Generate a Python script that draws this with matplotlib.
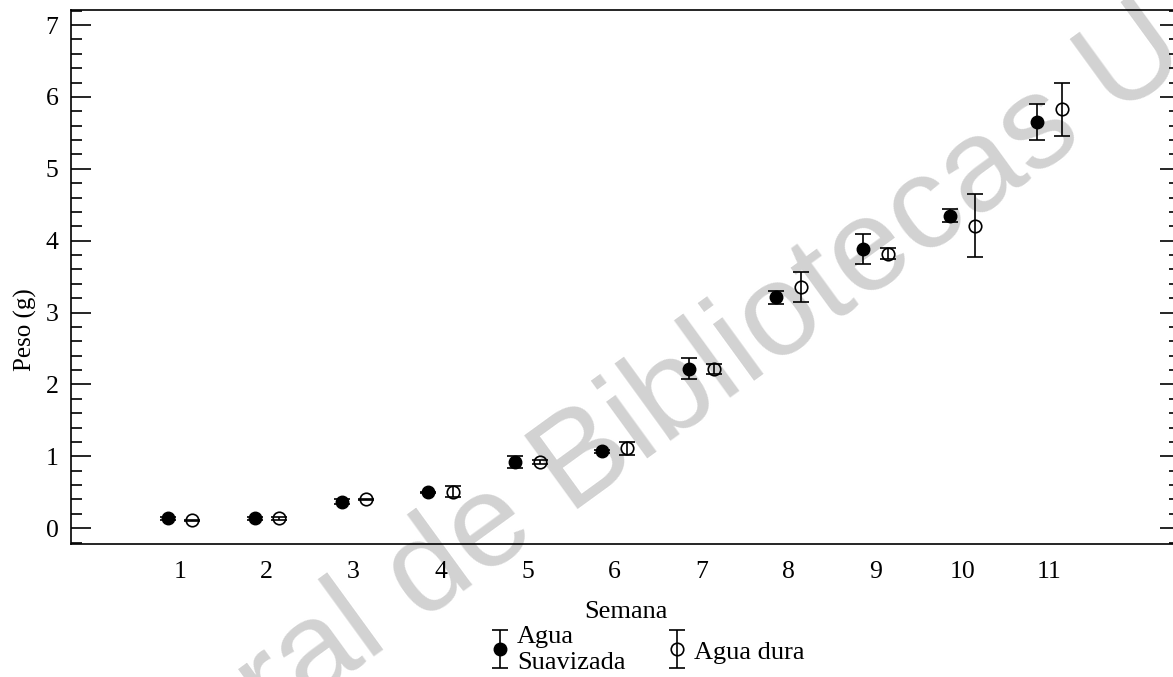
import matplotlib
matplotlib.use("Agg")
import matplotlib.pyplot as plt
from matplotlib.ticker import MultipleLocator
from matplotlib.legend_handler import HandlerErrorbar
from matplotlib.container import ErrorbarContainer

semanas = [1, 2, 3, 4, 5, 6, 7, 8, 9, 10, 11]
etiquetas = [str(s) for s in semanas]

# Agua suavizada
suav_media = [0.14, 0.14, 0.37, 0.50, 0.92, 1.07, 2.22, 3.21, 3.88, 4.35, 5.65]
suav_err = [0.02, 0.02, 0.04, 0.01, 0.08, 0.02, 0.15, 0.085, 0.21, 0.09, 0.25]

# Agua dura
dura_media = [0.11, 0.14, 0.40, 0.51, 0.92, 1.11, 2.21, 3.36, 3.82, 4.21, 5.83]
dura_err = [0.01, 0.02, 0.01, 0.08, 0.03, 0.09, 0.07, 0.21, 0.08, 0.44, 0.37]

plt.rcParams['font.family'] = ['Liberation Serif', 'DejaVu Serif']

fig = plt.figure(figsize=(11.73, 6.77), dpi=100)
ax = fig.add_axes([71 / 1173, 1 - 544 / 677, (1180 - 71) / 1173, (544 - 10) / 677])
ax.patch.set_visible(False)

# marca de agua
fig.text(442 / 1173, 1 - 608 / 677, 'Dirección General de Bibliotecas UAQ',
         fontsize=95, color='#d2d2d2', family='Liberation Sans',
         rotation=36, rotation_mode='anchor', ha='center', va='baseline',
         zorder=-1)

off = 0.14
lw = 1.2
e1 = ax.errorbar([s - off for s in semanas], suav_media, yerr=suav_err, fmt='o',
                 color='black', markersize=9, elinewidth=lw, capsize=6,
                 capthick=lw, label='Agua\nSuavizada')
e2 = ax.errorbar([s + off for s in semanas], dura_media, yerr=dura_err, fmt='o',
                 color='black', markerfacecolor='none', markeredgewidth=1.2,
                 markersize=9, elinewidth=lw, capsize=6, capthick=lw,
                 label='Agua dura')

ax.set_xlim(-0.25, 12.5)
ax.set_ylim(-0.22, 7.21)
ax.set_xticks(semanas)
ax.set_xticklabels(etiquetas)
ax.yaxis.set_major_locator(MultipleLocator(1))
ax.yaxis.set_minor_locator(MultipleLocator(0.2))

ax.tick_params(axis='x', length=0, pad=12, labelsize=18.5)
ax.tick_params(axis='y', which='both', direction='in', left=True, right=True,
               labelsize=18.5, pad=9, width=1.2)
ax.tick_params(axis='y', which='major', length=14.5)
ax.tick_params(axis='y', which='minor', length=8)

for sp in ax.spines.values():
    sp.set_linewidth(1.2)

ax.set_xlabel('Semana', fontsize=19, va='center')
ax.xaxis.set_label_coords(0.5, (544 - 612) / 534)
ax.set_ylabel('Peso (g)', fontsize=18, va='center')
ax.yaxis.set_label_coords((25 - 71) / 1109, (544 - 330) / 534)

fig.legend(handles=[e1, e2], labels=['Agua\nSuavizada', 'Agua dura'],
           loc='center', bbox_to_anchor=(647 / 1173, 1 - 650 / 677), ncol=2,
           frameon=False, fontsize=19, numpoints=1, handlelength=0.8,
           handletextpad=0.25, columnspacing=1.55, labelspacing=0.2,
           handler_map={ErrorbarContainer: HandlerErrorbar(yerr_size=0.72)})

fig.savefig('out.png', dpi=100)
